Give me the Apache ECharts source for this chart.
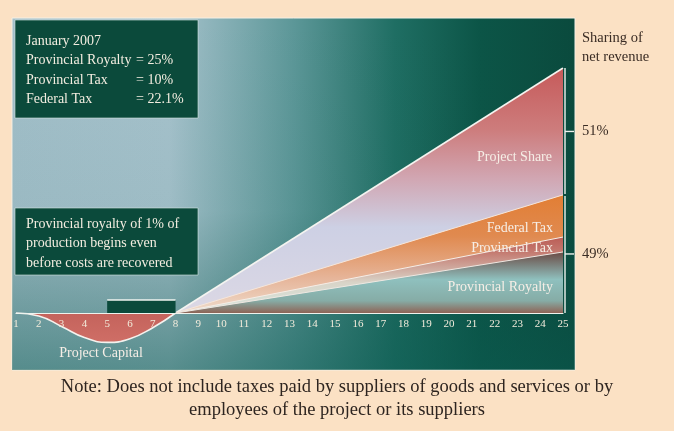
<!DOCTYPE html>
<html>
<head>
<meta charset="utf-8">
<script src="https://cdn.jsdelivr.net/npm/echarts@6/dist/echarts.min.js"></script>
<style>
html, body { margin: 0; padding: 0; background: #fbe1c4; }
#chart { width: 674px; height: 431px; }
</style>
</head>
<body>
<div id="chart"></div>
<script>
// years of the project
var years = ['1','2','3','4','5','6','7','8','9','10','11','12','13','14','15','16','17','18','19','20','21','22','23','24','25'];

// project capital (negative cash flow, years 1-8)
var capital = [0, -1.2, -5.5, -10, -12, -10.5, -6, 0];
// early royalty box, years 5-8
var earlyRoyalty = [null, null, null, null, 5.3, 5.3, 5.3, 5.3];

// tops of the shares of net revenue, [year index, value]
var shareTop = [[7, 0], [24, 100]];
var federalTop = [[7, 0], [24, 48.2]];
var provTaxTop = [[7, 0], [24, 31]];
var royaltyTop = [[7, 0], [24, 24.9]];

var rateLines = ['January 2007', 'Provincial Royalty', 'Provincial Tax', 'Federal Tax'];
var rateValues = ['', '= 25%', '= 10%', '= 22.1%'];
var noteLines = ['Provincial royalty of 1% of', 'production begins even', 'before costs are recovered'];

var serif = 'Liberation Serif';
var chart = echarts.init(document.getElementById('chart'));

function vgrad(stops) {
  return new echarts.graphic.LinearGradient(0, 0, 0, 1, stops.map(function (s) {
    return { offset: s[0], color: s[1] };
  }));
}

function txt(id, text, x, y, size, color, align) {
  return {
    type: 'text', id: id, z: 100, x: x, y: y,
    style: {
      text: text, fill: color, font: size + 'px "' + serif + '", serif',
      textAlign: align || 'left', textVerticalAlign: 'middle'
    }
  };
}

var graphics = [
  {
    type: 'rect', id: 'panel', z: -10,
    shape: { x: 12, y: 18, width: 563, height: 352 },
    style: {
      fill: new echarts.graphic.LinearGradient(0, 0, 1, 0, [
        { offset: 0, color: '#a2bfc9' },
        { offset: 0.28, color: '#a6c2cc' },
        { offset: 0.5, color: '#5c9798' },
        { offset: 0.68, color: '#1f6e63' },
        { offset: 0.83, color: '#0c5547' },
        { offset: 1, color: '#0a4a3d' }
      ]),
      stroke: '#f4efe4', lineWidth: 1
    }
  },
  {
    type: 'rect', id: 'panelShade', z: -9,
    shape: { x: 12, y: 18, width: 563, height: 352 },
    style: {
      fill: new echarts.graphic.LinearGradient(0, 0, 0, 1, [
        { offset: 0, color: 'rgba(10,80,70,0)' },
        { offset: 0.55, color: 'rgba(10,80,70,0.05)' },
        { offset: 1, color: 'rgba(10,90,80,0.5)' }
      ])
    }
  },
  {
    type: 'rect', id: 'rateBox', z: 90,
    shape: { x: 15, y: 20, width: 183, height: 98 },
    style: { fill: '#0b4a3b', stroke: '#d8e6e4', lineWidth: 0.6 }
  },
  {
    type: 'rect', id: 'noteBox', z: 90,
    shape: { x: 15, y: 208, width: 183, height: 67 },
    style: { fill: '#0b4a3b', stroke: '#d8e6e4', lineWidth: 0.6 }
  },
  txt('t1', 'Project Share', 552, 157, 14, '#f6eee6', 'right'),
  txt('t2', 'Federal Tax', 553, 228, 14, '#f6eee6', 'right'),
  txt('t3', 'Provincial Tax', 553, 248, 14, '#f6eee6', 'right'),
  txt('t4', 'Provincial Royalty', 553, 287, 14, '#f6eee6', 'right'),
  txt('t5', 'Project Capital', 101, 353, 14, '#f6eee6', 'center'),
  txt('s1', 'Sharing of', 582, 38, 14.5, '#3a2c24'),
  txt('s2', 'net revenue', 582, 57, 14.5, '#3a2c24'),
  txt('n1', 'Note: Does not include taxes paid by suppliers of goods and services or by', 337, 387, 18.5, '#2e2520', 'center'),
  txt('n2', 'employees of the project or its suppliers', 337, 410, 18.5, '#2e2520', 'center')
];

rateLines.forEach(function (line, i) {
  graphics.push(txt('rl' + i, line, 26, 41 + i * 19.5, 14, '#f3ede0'));
  if (rateValues[i]) graphics.push(txt('rv' + i, rateValues[i], 136, 41 + i * 19.5, 14, '#f3ede0'));
});
noteLines.forEach(function (line, i) {
  graphics.push(txt('nl' + i, line, 26, 224 + i * 19.5, 14, '#f3ede0'));
});

chart.setOption({
  animation: false,
  backgroundColor: '#fbe1c4',
  grid: { left: 16, right: 111, top: 68, bottom: 69 },
  xAxis: {
    type: 'category',
    data: years,
    boundaryGap: false,
    position: 'bottom',
    offset: -49,
    z: 10,
    axisLine: { show: true, onZero: false, lineStyle: { color: '#eef3ee', width: 1.2 } },
    axisTick: { show: false },
    axisLabel: { show: true, interval: 0, margin: 6, color: '#f2ebdb', fontSize: 11, fontFamily: serif },
    splitLine: { show: false }
  },
  yAxis: {
    type: 'value', min: -20, max: 100,
    axisLine: { show: false }, axisTick: { show: false },
    axisLabel: { show: false }, splitLine: { show: false }
  },
  graphic: graphics,
  series: [
    {
      name: 'Project Share', type: 'line', data: shareTop, symbol: 'none', z: 2,
      lineStyle: { color: '#f4f4f0', width: 1.6 },
      areaStyle: {
        opacity: 1,
        color: vgrad([[0, '#c65a5a'], [0.25, '#cd7c7c'], [0.45, '#d1a6b2'], [0.65, '#cdd0e4'], [1, '#dcd8e4']])
      }
    },
    {
      name: 'Federal Tax', type: 'line', data: federalTop, symbol: 'none', z: 3,
      lineStyle: { color: '#f6e6da', width: 1 },
      areaStyle: {
        opacity: 1,
        color: vgrad([[0, '#e27e34'], [0.35, '#e08a50'], [0.7, '#e6b498'], [1, '#efdccc']])
      }
    },
    {
      name: 'Provincial Tax', type: 'line', data: provTaxTop, symbol: 'none', z: 4,
      lineStyle: { color: '#f6ede6', width: 1 },
      areaStyle: {
        opacity: 1,
        color: vgrad([[0, '#bb5d56'], [0.2, '#c47a70'], [0.6, '#d9d4c8'], [1, '#d6e8e0']])
      }
    },
    {
      name: 'Provincial Royalty', type: 'line', data: royaltyTop, symbol: 'none', z: 5,
      lineStyle: { color: '#efe8e2', width: 1 },
      areaStyle: {
        opacity: 1,
        color: vgrad([[0, '#6a4a44'], [0.45, '#8fc0be'], [0.8, '#86aca6'], [1, '#8e6456']])
      }
    },
    {
      name: 'Project Capital', type: 'line', data: capital, smooth: true, symbol: 'none', z: 5,
      lineStyle: { color: '#f4f2ee', width: 1.6 },
      areaStyle: { opacity: 1, color: vgrad([[0, '#c4635c'], [1, '#cf6e66']]) }
    },
    {
      name: 'Early Royalty', type: 'line', data: earlyRoyalty, symbol: 'none', z: 6,
      lineStyle: { color: '#f0f4f0', width: 1.4 },
      areaStyle: { opacity: 1, color: '#0b4a3b' }
    }
  ]
});

// bracket on the right, placed from the data
var top25 = chart.convertToPixel({ seriesIndex: 0 }, shareTop[1]);
var fed25 = chart.convertToPixel({ seriesIndex: 0 }, federalTop[1]);
var zero25 = chart.convertToPixel({ seriesIndex: 0 }, [24, 0]);
var bx = top25[0] + 2;
var mid1 = (top25[1] + fed25[1]) / 2;
var mid2 = (fed25[1] + zero25[1]) / 2;
var bracketStyle = { stroke: '#eef2ee', lineWidth: 1.4 };
chart.setOption({
  graphic: [
    { type: 'line', id: 'b1', z: 50, shape: { x1: bx, y1: top25[1], x2: bx, y2: fed25[1] - 1 }, style: bracketStyle },
    { type: 'line', id: 'b2', z: 50, shape: { x1: bx, y1: fed25[1] + 1, x2: bx, y2: zero25[1] }, style: bracketStyle },
    { type: 'line', id: 'b3', z: 50, shape: { x1: bx, y1: mid1, x2: bx + 9, y2: mid1 }, style: bracketStyle },
    { type: 'line', id: 'b4', z: 50, shape: { x1: bx, y1: mid2, x2: bx + 9, y2: mid2 }, style: bracketStyle },
    txt('p1', '51%', 582, mid1, 14.5, '#3a2c24'),
    txt('p2', '49%', 582, mid2, 14.5, '#3a2c24')
  ]
});
</script>
</body>
</html>
